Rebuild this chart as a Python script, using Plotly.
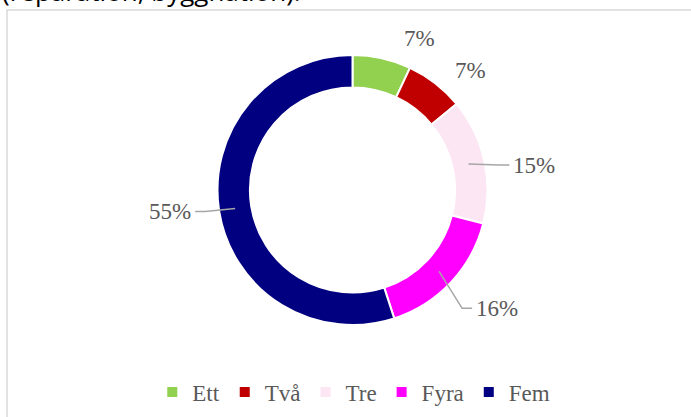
import math
import plotly.graph_objects as go

# data
categories = ['Ett', 'Två', 'Tre', 'Fyra', 'Fem']
values = [7, 7, 15, 16, 55]
slice_colors = ['#92D050', '#C00000', '#FDE6F3', '#FF00FF', '#000080']

W, H = 691, 417
cx, cy, r_out = 352.5, 190, 135
hole = 0.76
label_font = dict(family='Liberation Serif, Times New Roman, serif', size=23, color='#595959')

# label offsets from the slice mid-point on the ring (px), and whether a leader line is drawn
label_offset = [(41, -36), (45, -26), (66, 1), (58, 37), (-65, 3)]
leader = [False, False, True, True, True]

fig = go.Figure(go.Pie(
    labels=categories,
    values=values,
    marker=dict(colors=slice_colors, line=dict(color='white', width=2)),
    hole=hole,
    sort=False,
    direction='clockwise',
    rotation=0,
    textinfo='none',
    hoverinfo='label+percent',
    domain=dict(x=[(cx - r_out) / W, (cx + r_out) / W],
                y=[1 - (cy + r_out) / H, 1 - (cy - r_out) / H]),
))

def px(x, y):
    return x / W, 1 - y / H

total = sum(values)
r_mid = r_out * (1 + hole) / 2
cum = 0
shapes = []
annotations = []
for v, (ox, oy), ld in zip(values, label_offset, leader):
    mid = 90 - (cum + v / 2) / total * 360
    cum += v
    ax_ = cx + r_mid * math.cos(math.radians(mid))
    ay_ = cy - r_mid * math.sin(math.radians(mid))
    lx, ly = ax_ + ox, ay_ + oy
    txt = f'{round(v / total * 100)}%'
    x0, y0 = px(lx, ly)
    annotations.append(dict(x=x0, y=y0, xref='paper', yref='paper', text=txt,
                            xanchor='center', yanchor='middle',
                            showarrow=False, font=label_font))
    if ld:
        half = 22
        side = 1 if ox > 0 else -1
        edge = lx - side * (half + 3)
        elbow = edge - side * 10
        pts = [px(ax_, ay_), px(elbow, ly), px(edge, ly)]
        path = 'M{},{} L{},{} L{},{}'.format(*[c for p in pts for c in p])
        shapes.append(dict(type='path', path=path, xref='paper', yref='paper',
                           line=dict(color='#A6A6A6', width=1.5)))

# chart frame (right and bottom edges run past the picture)
bx0, by0 = px(7, 10)
bx1, by1 = px(696, 430)
shapes.append(dict(type='rect', xref='paper', yref='paper', x0=bx0, y0=by1, x1=bx1, y1=by0,
                   line=dict(color='#D9D9D9', width=1.5), layer='below'))

# cut-off text above the chart
annotations.append(dict(x=0, y=1 - 11 / H, xref='paper', yref='paper', xanchor='left', yanchor='bottom',
                        text='(reparation, byggnation).', showarrow=False,
                        font=dict(family='Open Sans, Noto Sans, sans-serif', size=26, color='#000000')))

fig.update_layout(
    width=W, height=H,
    margin=dict(l=0, r=0, t=0, b=0),
    paper_bgcolor='white',
    plot_bgcolor='white',
    shapes=shapes,
    annotations=annotations,
    showlegend=True,
    legend=dict(orientation='h', x=0.512, xanchor='center', y=1 - 392 / H, yanchor='middle',
                font=label_font, itemclick=False, traceorder='normal'),
)

fig.write_html('out.html', config={'displayModeBar': False},
               post_script="document.body.style.margin='0';document.body.style.overflow='hidden';")
